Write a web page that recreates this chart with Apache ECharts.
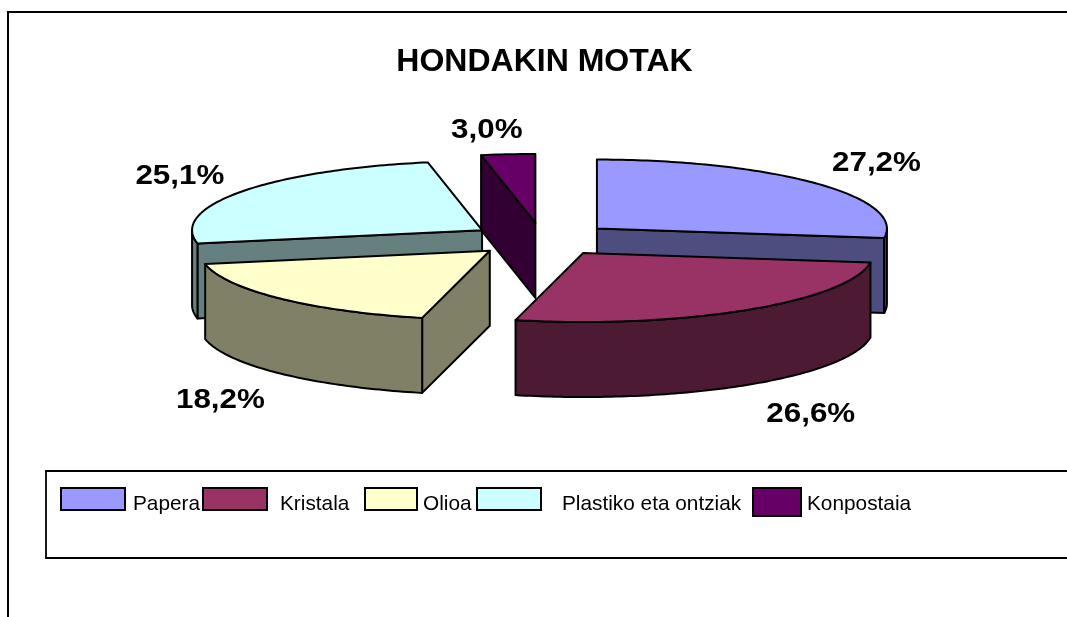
<!DOCTYPE html>
<html><head><meta charset="utf-8">
<style>html,body{margin:0;padding:0;background:#fff}#c{width:1067px;height:617px}</style>
<script src="https://cdn.jsdelivr.net/npm/echarts@6/dist/echarts.min.js"></script>
</head><body><div id="c"></div>
<script>
const categories = ['Papera', 'Kristala', 'Olioa', 'Plastiko eta ontziak', 'Konpostaia'];
const values = [27.2, 26.6, 18.2, 25.1, 3.0];
const labels = ['27,2%', '26,6%', '18,2%', '25,1%', '3,0%'];
const topColors = ['#9999FF', '#993366', '#FFFFCC', '#CCFFFF', '#660066'];
const sideColors = ['#4D4D80', '#4D1A33', '#808066', '#668080', '#330033'];
const drawOrder = [4, 3, 0, 2, 1];

const FONT = '"Liberation Sans", Arial, sans-serif';
const CX = 542.2, CY = 239.4, RX = 290, RY = 69, DEPTH = 75;
const EXPLODE_X = 72.6, EXPLODE_Y = 16.5, STROKE = 2;
const LABEL_GAP_X = 62, LABEL_GAP_Y = 24;
const labelNudge = [[-1, 4], [2, 5], [2, 3], [0, 9], [2, 0]];

const total = values.reduce((a, b) => a + b, 0);
const rad = d => d * Math.PI / 180;

function sliceAngles(i) {
  let s = 0;
  for (let k = 0; k < i; k++) s += values[k];
  return [s / total * 360, (s + values[i]) / total * 360];
}

function renderSlice(i, value) {
  const [a0, a1] = sliceAngles(i);
  const mid = rad((a0 + a1) / 2);
  const ax = CX + EXPLODE_X * Math.sin(mid), ay = CY - EXPLODE_Y * Math.cos(mid);
  const pt = a => [ax + RX * Math.sin(rad(a)), ay - RY * Math.cos(rad(a))];
  const down = p => [p[0], p[1] + DEPTH];
  const arc = (from, to) => {
    const out = [], n = Math.max(2, Math.ceil(Math.abs(to - from)));
    for (let k = 0; k <= n; k++) out.push(pt(from + (to - from) * k / n));
    return out;
  };
  const poly = (points, fill) => ({
    type: 'polygon', shape: { points },
    style: { fill, stroke: '#000', lineWidth: STROKE, lineJoin: 'round' }
  });
  const children = [];
  const apex = [ax, ay];
  if (Math.sin(rad(a0)) < -1e-6) {
    const p = pt(a0);
    children.push(poly([apex, p, down(p), down(apex)], sideColors[i]));
  }
  if (Math.sin(rad(a1)) > 1e-6) {
    const p = pt(a1);
    children.push(poly([apex, p, down(p), down(apex)], sideColors[i]));
  }
  const f0 = Math.max(a0, 90), f1 = Math.min(a1, 270);
  if (f1 > f0) {
    const w = arc(f0, f1);
    children.push(poly(w.concat(w.slice().reverse().map(down)), sideColors[i]));
  }
  children.push(poly([apex].concat(arc(a0, a1)), topColors[i]));

  const sx = Math.sin(mid), cy = Math.cos(mid);
  const lx = ax + RX * sx + Math.sign(sx) * LABEL_GAP_X * Math.min(1, Math.abs(sx) * 4) + labelNudge[i][0];
  const ly = ay - RY * cy - Math.sign(cy) * LABEL_GAP_Y + (cy < 0 ? DEPTH : 0) + labelNudge[i][1];
  children.push({
    type: 'text', x: lx, y: ly, scaleX: 1.12, z2: 10,
    style: {
      text: labels[i], fill: '#000', align: 'center', verticalAlign: 'middle',
      font: 'bold 28px ' + FONT
    }
  });
  return { type: 'group', children };
}

const series = drawOrder.map(i => ({
  type: 'custom',
  name: categories[i],
  coordinateSystem: 'none',
  silent: true,
  itemStyle: { color: topColors[i] },
  data: [[values[i]]],
  renderItem: (params, api) => renderSlice(i, api.value(0))
}));

const LEGEND_ROW = 33;
const legendLayout = [
  { left: 60, w: 64, h: 22, gap: 3 },
  { left: 202, w: 64, h: 22, gap: 8 },
  { left: 364, w: 52, h: 22, gap: 1 },
  { left: 476, w: 64, h: 22, gap: 16 },
  { left: 752, w: 48, h: 28, gap: 1 }
];
const legend = categories.map((name, i) => {
  const L = legendLayout[i];
  return {
    data: [{
      name,
      // box in the upper part of the row; the empty end point keeps the row height so the text sits lower
      icon: 'path://M0 0H' + L.w + 'V' + L.h + 'H0Z M0 ' + LEGEND_ROW + 'V' + LEGEND_ROW
    }],
    left: L.left, top: 487,
    padding: 0, selectedMode: false,
    itemWidth: L.w, itemHeight: LEGEND_ROW,
    itemStyle: { borderColor: '#000', borderWidth: 2 },
    textStyle: {
      color: '#000', fontFamily: FONT, fontSize: 20.8,
      padding: [0, 0, 0, L.gap]
    }
  };
});

const chart = echarts.init(document.getElementById('c'), null, { renderer: 'canvas' });
chart.setOption({
  animation: false,
  backgroundColor: '#fff',
  title: {
    text: 'HONDAKIN MOTAK', left: 544.5, top: 46, textAlign: 'center', padding: 0,
    textStyle: { fontFamily: FONT, fontWeight: 'bold', fontSize: 32, color: '#000' }
  },
  legend,
  series,
  graphic: [
    { type: 'polyline', silent: true, shape: { points: [[8, 617], [8, 12], [1067, 12]] },
      style: { stroke: '#000', lineWidth: 2, fill: null } },
    { type: 'polyline', silent: true, shape: { points: [[1067, 471], [46, 471], [46, 558], [1067, 558]] },
      style: { stroke: '#000', lineWidth: 1.8, fill: null } }
  ]
});
</script></body></html>
